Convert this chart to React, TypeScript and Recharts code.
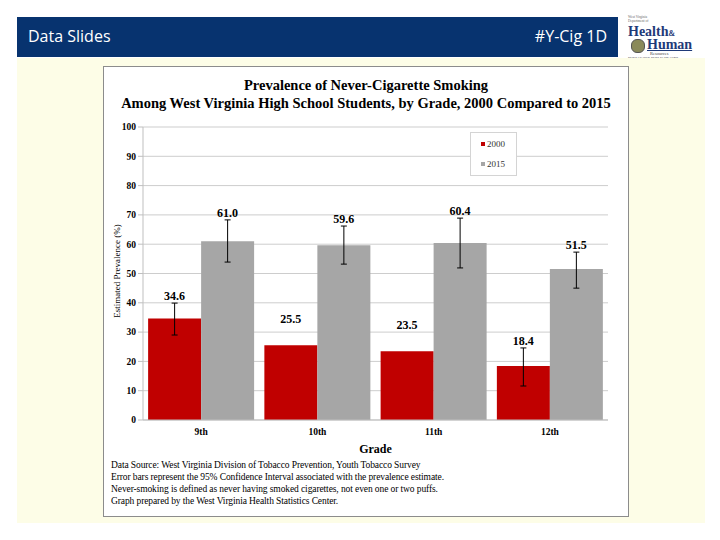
import { BarChart, Bar, XAxis, YAxis, CartesianGrid, ErrorBar, LabelList } from 'recharts';

const grades = ['9th', '10th', '11th', '12th'];
const prev2000 = [34.6, 25.5, 23.5, 18.4];
const prev2015 = [61.0, 59.6, 60.4, 51.5];
// [below, above] offsets of the 95% CI
const ci2000: ([number, number] | null)[] = [[5.6, 5.3], null, null, [6.8, 6.2]];
const ci2015: ([number, number] | null)[] = [[7.1, 7.3], [6.4, 6.6], [8.5, 8.5], [6.5, 5.8]];
const yTicks = [0, 10, 20, 30, 40, 50, 60, 70, 80, 90, 100];
const series = [
  { name: '2000', color: '#c00000' },
  { name: '2015', color: '#a6a6a6' },
];
const footnotes = [
  'Data Source: West Virginia Division of Tobacco Prevention, Youth Tobacco Survey',
  'Error bars represent the 95% Confidence Interval associated with the prevalence estimate.',
  'Never-smoking is defined as never having smoked cigarettes, not even one or two puffs.',
  'Graph prepared by the West Virginia Health Statistics Center.',
];

const data = grades.map((g, i) => ({
  grade: g,
  y2000: prev2000[i],
  y2015: prev2015[i],
  e2000: ci2000[i],
  e2015: ci2015[i],
}));

const SERIF = '"Liberation Serif", "DejaVu Serif", serif';

const makeLabel = (errs: ([number, number] | null)[]) => (props: any) => {
  const { x, y, width, height, value, index } = props;
  const perUnit = height / value;
  const err = errs[index];
  const top = err ? y - err[1] * perUnit - 3 : y - 22;
  return (
    <text x={x + width / 2} y={top} textAnchor="middle" fontFamily={SERIF} fontWeight="bold" fontSize={12} fill="#000">
      {Number(value).toFixed(1)}
    </text>
  );
};

const App = () => {
  return (
    <div style={{ position: 'absolute', left: 0, top: 0, width: 720, height: 540, background: '#fff', overflow: 'hidden' }}>
      {/* header bar */}
      <div style={{ position: 'absolute', left: 17, top: 17, width: 601, height: 40, background: '#07336f', color: '#fff', fontFamily: '"Open Sans", sans-serif', fontSize: 16 }}>
        <span style={{ position: 'absolute', left: 11, top: 8 }}>Data Slides</span>
        <span style={{ position: 'absolute', right: 11, top: 8 }}>#Y-Cig 1D</span>
      </div>
      {/* logo */}
      <div style={{ position: 'absolute', left: 624, top: 16, width: 84, height: 44, fontFamily: SERIF, color: '#1f3a78' }}>
        <div style={{ position: 'absolute', left: 4, top: 0, fontSize: 3.5, color: '#666', lineHeight: '3.5px' }}>West Virginia<br />Department of</div>
        <div style={{ position: 'absolute', left: 4, top: 9, fontSize: 14, fontWeight: 'bold', lineHeight: '13px' }}>Health<span style={{ fontSize: 8 }}>&amp;</span></div>
        <div style={{ position: 'absolute', left: 7, top: 23, width: 12, height: 12, borderRadius: 6, background: '#8a8a5a', border: '1px solid #555' }} />
        <div style={{ position: 'absolute', left: 23, top: 22, fontSize: 14, fontWeight: 'bold', lineHeight: '13px', textDecoration: 'underline' }}>Human</div>
        <div style={{ position: 'absolute', left: 26, top: 36, fontSize: 4.5, lineHeight: '4.5px', color: '#444' }}>Resources</div>
        <div style={{ position: 'absolute', left: 4, top: 42, fontSize: 3.5, lineHeight: '3.5px', color: '#444', whiteSpace: 'nowrap' }}>BUREAU FOR PUBLIC HEALTH</div>
      </div>
      {/* yellow panel */}
      <div style={{ position: 'absolute', left: 17, top: 58, width: 688, height: 465, background: '#fdfde7' }} />
      {/* white chart box */}
      <div style={{ position: 'absolute', left: 103, top: 66, width: 524, height: 449, background: '#fff', border: '1px solid #8c8c8c' }} />
      <div style={{ position: 'absolute', left: 103, top: 76, width: 526, textAlign: 'center', fontFamily: SERIF, fontWeight: 'bold', fontSize: 14.5, lineHeight: '18px', color: '#000' }}>
        Prevalence of Never-Cigarette Smoking
        <br />
        Among West Virginia High School Students, by Grade, 2000 Compared to 2015
      </div>
      <div style={{ position: 'absolute', left: 103, top: 66 }}>
        <BarChart width={525} height={395} data={data} margin={{ top: 61, right: 20, bottom: 0, left: 0 }} barCategoryGap="4.4%" barGap={0}>
          <CartesianGrid vertical={false} stroke="#cdcdcd" />
          <XAxis
            dataKey="grade"
            height={41}
            tickLine={false}
            axisLine={{ stroke: '#bfbfbf' }}
            tick={{ fontFamily: SERIF, fontWeight: 'bold', fontSize: 9.5, fill: '#000' }}
            label={{ value: 'Grade', position: 'insideBottom', offset: 8, style: { fontFamily: SERIF, fontWeight: 'bold', fontSize: 12, fill: '#000' } }}
          />
          <YAxis
            width={40}
            domain={[0, 100]}
            ticks={yTicks}
            interval={0}
            tickSize={5}
            tickLine={{ stroke: '#bfbfbf' }}
            axisLine={{ stroke: '#bfbfbf' }}
            tick={{ fontFamily: SERIF, fontWeight: 'bold', fontSize: 9.5, fill: '#000' }}
          />
          <Bar dataKey="y2000" name="2000" fill={series[0].color} isAnimationActive={false}>
            <ErrorBar dataKey="e2000" width={3} stroke="#000" strokeWidth={1} direction="y" />
            <LabelList dataKey="y2000" content={makeLabel(ci2000)} />
          </Bar>
          <Bar dataKey="y2015" name="2015" fill={series[1].color} isAnimationActive={false}>
            <ErrorBar dataKey="e2015" width={3} stroke="#000" strokeWidth={1} direction="y" />
            <LabelList dataKey="y2015" content={makeLabel(ci2015)} />
          </Bar>
        </BarChart>
      </div>
      {/* legend */}
      <div style={{ position: 'absolute', left: 470, top: 132, width: 45, height: 42, border: '1px solid #d4d4d4', background: '#fff', fontFamily: SERIF, fontSize: 9, color: '#333' }}>
        {series.map((s, i) => (
          <div key={s.name} style={{ display: 'flex', alignItems: 'center', marginTop: i === 0 ? 6 : 10, marginLeft: 10 }}>
            <span style={{ width: 4, height: 4, background: s.color, marginRight: 2, display: 'inline-block' }} />
            {s.name}
          </div>
        ))}
      </div>
      {/* y-axis title */}
      <div style={{ position: 'absolute', left: 117, top: 271, width: 0, height: 0 }}>
        <div style={{ position: 'absolute', transform: 'translate(-50%, -50%) rotate(-90deg)', whiteSpace: 'nowrap', fontFamily: SERIF, fontSize: 9, color: '#000' }}>
          Estimated Prevalence (%)
        </div>
      </div>
      {/* footnotes */}
      <div style={{ position: 'absolute', left: 111, top: 459, fontFamily: SERIF, fontSize: 9.5, lineHeight: '12px', color: '#000', letterSpacing: -0.1 }}>
        {footnotes.map((t) => (
          <div key={t} style={{ whiteSpace: 'nowrap' }}>{t}</div>
        ))}
      </div>
    </div>
  );
};

export default App;
